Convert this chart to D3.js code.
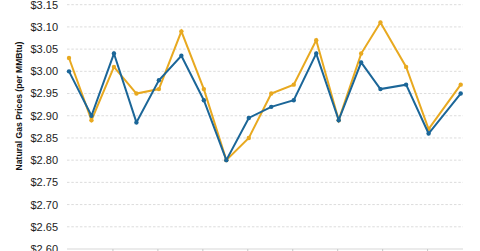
<!DOCTYPE html>
<html>
<head>
<meta charset="utf-8">
<script src="https://cdn.jsdelivr.net/npm/d3@7"></script>
<style>
  body { margin: 0; background: #fff; }
  svg { display: block; font-family: "Liberation Sans", Arial, sans-serif; }
  .grid line { stroke: #dcdcdc; stroke-dasharray: 2.5 1.8; }
  .ylab { font-size: 11px; fill: #222; }
  .ytitle { font-size: 8.6px; font-weight: bold; fill: #111; }
</style>
</head>
<body>
<svg id="chart" width="480" height="251"></svg>
<script>
// weekly observations
const dates = ["2017-07-28","2017-08-04","2017-08-11","2017-08-18","2017-08-25","2017-09-01",
  "2017-09-08","2017-09-15","2017-09-22","2017-09-29","2017-10-06","2017-10-13",
  "2017-10-20","2017-10-27","2017-11-02","2017-11-10","2017-11-17","2017-11-27"];
const blueSeries = [3.00, 2.90, 3.04, 2.885, 2.98, 3.035, 2.935, 2.80, 2.895, 2.92, 2.935, 3.04,
  2.89, 3.02, 2.96, 2.97, 2.86, 2.95];
const goldSeries = [3.03, 2.89, 3.01, 2.95, 2.96, 3.09, 2.96, 2.80, 2.85, 2.95, 2.97, 3.07,
  2.89, 3.04, 3.11, 3.01, 2.87, 2.97];
const yTicks = [2.60, 2.65, 2.70, 2.75, 2.80, 2.85, 2.90, 2.95, 3.00, 3.05, 3.10, 3.15];
const xTickDates = ["2017-08-11","2017-08-25","2017-09-08","2017-09-22","2017-10-06",
  "2017-10-20","2017-11-03","2017-11-17"];

const parse = d3.utcParse("%Y-%m-%d");
const svg = d3.select('#chart');
const plotL = 67, plotR = 463, plotT = 4.7, plotB = 249;

const x = d3.scaleUtc()
  .domain(d3.extent(dates, parse))
  .range([69, 460.7]);
const y = d3.scaleLinear().domain([2.60, 3.15]).range([plotB, plotT]);

// gridlines
svg.append('g').attr('class', 'grid')
  .selectAll('line')
  .data(yTicks.filter(t => t > 2.6))
  .join('line')
    .attr('x1', plotL).attr('x2', plotR)
    .attr('y1', d => y(d)).attr('y2', d => y(d));

// y labels
svg.append('g').selectAll('text')
  .data(yTicks)
  .join('text')
    .attr('class', 'ylab')
    .attr('x', 58)
    .attr('y', d => y(d))
    .attr('dy', '0.36em')
    .attr('text-anchor', 'end')
    .text(d => '$' + d.toFixed(2));

// bottom axis line + ticks
svg.append('line')
  .attr('x1', plotL).attr('x2', plotR)
  .attr('y1', plotB).attr('y2', plotB)
  .attr('stroke', '#e4e4e4').attr('stroke-width', 1.5);
svg.append('g').selectAll('line')
  .data(xTickDates.map(parse))
  .join('line')
    .attr('x1', d => x(d) - 1).attr('x2', d => x(d) - 1)
    .attr('y1', plotB).attr('y2', plotB + 5)
    .attr('stroke', '#c8c8c8');

// y title
svg.append('text')
  .attr('class', 'ytitle')
  .attr('transform', 'translate(21.5,106) rotate(-90)')
  .attr('text-anchor', 'middle')
  .text('Natural Gas Prices (per MMBtu)');

// series
const series = [
  { name: 'gold', color: '#e8a920', values: goldSeries },
  { name: 'blue', color: '#1b6698', values: blueSeries },
];
const line = d3.line()
  .x((d, i) => x(parse(dates[i])))
  .y(d => y(d));

series.forEach(s => {
  const g = svg.append('g');
  g.append('path')
    .attr('d', line(s.values))
    .attr('fill', 'none')
    .attr('stroke', s.color)
    .attr('stroke-width', 2);
  g.selectAll('circle')
    .data(s.values)
    .join('circle')
      .attr('cx', (d, i) => x(parse(dates[i])))
      .attr('cy', d => y(d))
      .attr('r', 2.2)
      .attr('fill', s.color);
});
</script>
</body>
</html>
